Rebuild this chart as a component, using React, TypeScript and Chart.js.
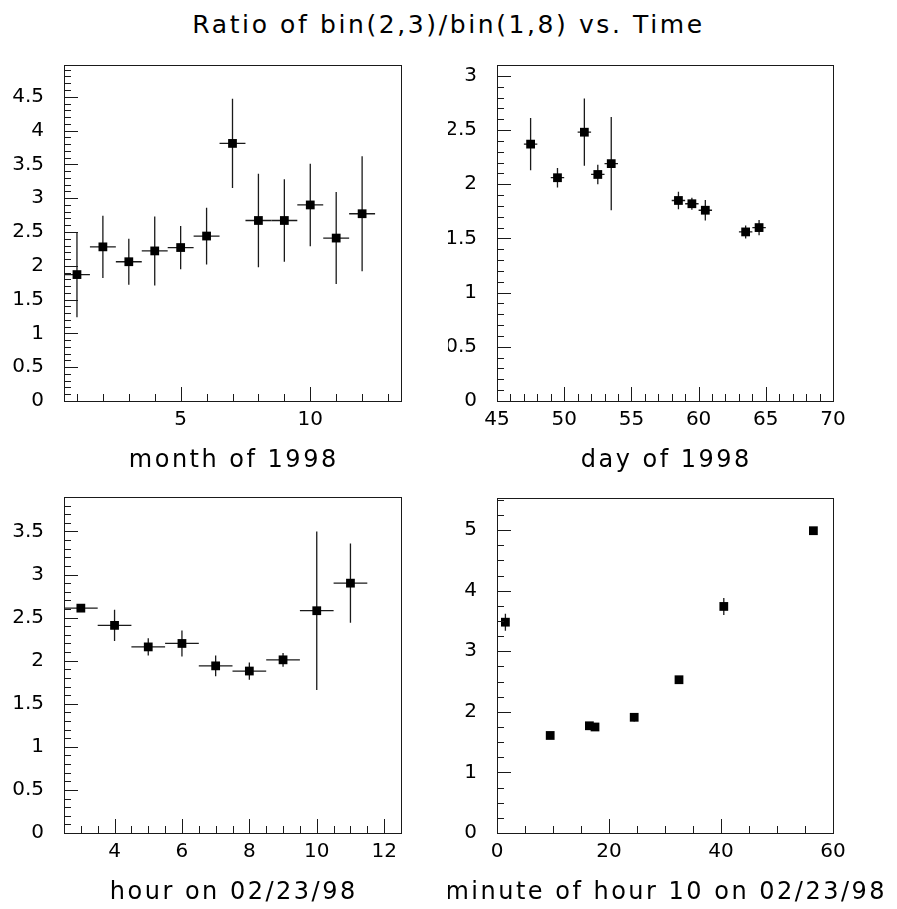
import React, { useEffect, useRef } from "react";
import { Chart, registerables } from "chart.js";

Chart.register(...registerables);

// ---------------- data ----------------
const monthX = [1, 2, 3, 4, 5, 6, 7, 8, 9, 10, 11, 12];
const monthRatio = [1.87, 2.28, 2.06, 2.22, 2.27, 2.44, 3.81, 2.67, 2.67, 2.9, 2.41, 2.77];
const monthErr = [0.63, 0.46, 0.34, 0.51, 0.32, 0.42, 0.66, 0.69, 0.61, 0.61, 0.68, 0.85];
const monthXTicks = [5, 10];
const monthYTicks = [0, 0.5, 1, 1.5, 2, 2.5, 3, 3.5, 4, 4.5];

const dayX = [47.5, 49.5, 51.5, 52.5, 53.5, 58.5, 59.5, 60.5, 63.5, 64.5];
const dayRatio = [2.37, 2.06, 2.48, 2.09, 2.19, 1.85, 1.82, 1.76, 1.56, 1.6];
const dayErr = [0.24, 0.09, 0.31, 0.09, 0.43, 0.08, 0.055, 0.095, 0.06, 0.07];
const dayXTicks = [45, 50, 55, 60, 65, 70];
const dayYTicks = [0, 0.5, 1, 1.5, 2, 2.5, 3];

const hourX = [3, 4, 5, 6, 7, 8, 9, 10, 11];
const hourRatio = [2.61, 2.41, 2.16, 2.2, 1.94, 1.88, 2.01, 2.58, 2.9];
const hourErr = [0.03, 0.18, 0.1, 0.15, 0.12, 0.1, 0.08, 0.92, 0.46];
const hourXTicks = [4, 6, 8, 10, 12];
const hourYTicks = [0, 0.5, 1, 1.5, 2, 2.5, 3, 3.5];

const minuteX = [1.5, 9.5, 16.5, 17.5, 24.5, 32.5, 40.5, 56.5];
const minuteRatio = [3.48, 1.61, 1.77, 1.75, 1.91, 2.53, 3.74, 4.99];
const minuteErr = [0.14, 0.03, 0.03, 0.03, 0.07, 0.04, 0.14, 0.03];
const minuteXTicks = [0, 20, 40, 60];
const minuteYTicks = [0, 1, 2, 3, 4, 5];

const BIN_HALF = 0.5;
const TITLE = "Ratio of bin(2,3)/bin(1,8) vs. Time";

// ---------------- panels ----------------
type Panel = {
  xs: number[]; ys: number[]; es: number[];
  xMin: number; xMax: number; yMin: number; yMax: number;
  xTicks: number[]; yTicks: number[];
  xMinor: number; yMinor: number;
  title: string;
  canvas: { left: number; top: number; w: number; h: number };
  area: { l: number; t: number; r: number; b: number };
};

const panels: Panel[] = [
  {
    xs: monthX, ys: monthRatio, es: monthErr,
    xMin: 0.5, xMax: 13.5, yMin: 0, yMax: 4.97,
    xTicks: monthXTicks, yTicks: monthYTicks, xMinor: 1, yMinor: 0.1,
    title: "month of 1998",
    canvas: { left: 0, top: 50, w: 448, h: 440 },
    area: { l: 64, t: 65, r: 401, b: 401 },
  },
  {
    xs: dayX, ys: dayRatio, es: dayErr,
    xMin: 45, xMax: 70, yMin: 0, yMax: 3.1,
    xTicks: dayXTicks, yTicks: dayYTicks, xMinor: 1, yMinor: 0.1,
    title: "day of 1998",
    canvas: { left: 448, top: 50, w: 449, h: 440 },
    area: { l: 497, t: 65, r: 833, b: 401 },
  },
  {
    xs: hourX, ys: hourRatio, es: hourErr,
    xMin: 2.5, xMax: 12.5, yMin: 0, yMax: 3.9,
    xTicks: hourXTicks, yTicks: hourYTicks, xMinor: 0.5, yMinor: 0.1,
    title: "hour on 02/23/98",
    canvas: { left: 0, top: 482, w: 448, h: 427 },
    area: { l: 64, t: 497, r: 401, b: 833 },
  },
  {
    xs: minuteX, ys: minuteRatio, es: minuteErr,
    xMin: 0, xMax: 60, yMin: 0, yMax: 5.53,
    xTicks: minuteXTicks, yTicks: minuteYTicks, xMinor: 5, yMinor: 0.25,
    title: "minute of hour 10 on 02/23/98",
    canvas: { left: 448, top: 482, w: 449, h: 427 },
    area: { l: 497, t: 498, r: 833, b: 833 },
  },
];

const FONT = '"DejaVu Sans", "Liberation Sans", sans-serif';
const LINE = "#1a1a1a";

function makePawPlugin(p: Panel) {
  return {
    id: "paw",
    beforeDatasetsDraw(chart: any) {
      const { ctx } = chart;
      const x = chart.scales.x;
      const y = chart.scales.y;
      ctx.save();
      ctx.strokeStyle = LINE;
      ctx.lineWidth = 1.3;
      p.xs.forEach((xv, i) => {
        const px = x.getPixelForValue(xv);
        const py = y.getPixelForValue(p.ys[i]);
        const y0 = y.getPixelForValue(p.ys[i] - p.es[i]);
        const y1 = y.getPixelForValue(p.ys[i] + p.es[i]);
        const x0 = x.getPixelForValue(xv - BIN_HALF);
        const x1 = x.getPixelForValue(xv + BIN_HALF);
        ctx.beginPath();
        ctx.moveTo(px, y0);
        ctx.lineTo(px, y1);
        ctx.moveTo(x0, py);
        ctx.lineTo(x1, py);
        ctx.stroke();
      });
      ctx.restore();
    },
    afterDraw(chart: any) {
      const { ctx, chartArea } = chart;
      const { left, right, top, bottom } = chartArea;
      const x = chart.scales.x;
      const y = chart.scales.y;
      ctx.save();
      ctx.strokeStyle = LINE;
      ctx.lineWidth = 1;
      ctx.strokeRect(Math.round(left) + 0.5, Math.round(top) + 0.5, Math.round(right - left), Math.round(bottom - top));
      const isMajor = (v: number, arr: number[]) => arr.some((t) => Math.abs(t - v) < 1e-6);
      ctx.beginPath();
      const ny = Math.floor((p.yMax - p.yMin) / p.yMinor + 1e-6);
      for (let k = 0; k <= ny; k++) {
        const v = p.yMin + k * p.yMinor;
        const py = Math.round(y.getPixelForValue(v)) + 0.5;
        const len = isMajor(v, p.yTicks) ? 14 : 7;
        ctx.moveTo(left, py);
        ctx.lineTo(left + len, py);
      }
      const k0 = Math.ceil(p.xMin / p.xMinor - 1e-6);
      const k1 = Math.floor(p.xMax / p.xMinor + 1e-6);
      for (let k = k0; k <= k1; k++) {
        const v = k * p.xMinor;
        const px = Math.round(x.getPixelForValue(v)) + 0.5;
        const len = isMajor(v, p.xTicks) ? 14 : 7;
        ctx.moveTo(px, bottom);
        ctx.lineTo(px, bottom - len);
      }
      ctx.stroke();
      // axis title
      ctx.fillStyle = "#000";
      ctx.font = `24px ${FONT}`;
      (ctx as any).letterSpacing = "2.5px";
      ctx.textAlign = "center";
      ctx.textBaseline = "alphabetic";
      ctx.fillText(p.title, (left + right) / 2 + 1.25, bottom + 66);
      ctx.restore();
    },
  };
}

function PanelChart({ p }: { p: Panel }) {
  const ref = useRef<HTMLCanvasElement | null>(null);
  useEffect(() => {
    const c = ref.current;
    if (!c) return;
    const padTop = p.area.t - p.canvas.top;
    const yWidth = p.area.l - p.canvas.left;
    const padRight = p.canvas.left + p.canvas.w - p.area.r;
    const xHeight = p.canvas.top + p.canvas.h - p.area.b;
    const chart = new Chart(c, {
      type: "scatter",
      data: {
        datasets: [
          {
            data: p.xs.map((xv, i) => ({ x: xv, y: p.ys[i] })),
            pointStyle: "rect",
            pointRadius: 6.2,
            backgroundColor: "#000",
            borderWidth: 0,
          },
        ],
      },
      options: {
        animation: false,
        responsive: false,
        events: [],
        layout: { padding: { top: padTop, right: padRight, bottom: 0, left: 0 } },
        plugins: { legend: { display: false }, tooltip: { enabled: false }, title: { display: false } },
        scales: {
          x: {
            type: "linear",
            position: "bottom",
            min: p.xMin,
            max: p.xMax,
            grid: { display: false, drawTicks: false },
            border: { display: false },
            ticks: {
              autoSkip: false,
              maxRotation: 0,
              padding: 7,
              color: "#000",
              font: { family: FONT, size: 20 },
              callback: (v: any) => String(v),
            },
            afterBuildTicks: (s: any) => {
              s.ticks = p.xTicks.map((v) => ({ value: v }));
            },
            afterFit: (s: any) => {
              s.height = xHeight;
              s.paddingLeft = 0;
              s.paddingRight = 0;
            },
          },
          y: {
            type: "linear",
            position: "left",
            min: p.yMin,
            max: p.yMax,
            grid: { display: false, drawTicks: false },
            border: { display: false },
            ticks: {
              autoSkip: false,
              padding: 20,
              color: "#000",
              font: { family: FONT, size: 20 },
              callback: (v: any) => String(v),
            },
            afterBuildTicks: (s: any) => {
              s.ticks = p.yTicks.map((v) => ({ value: v }));
            },
            afterFit: (s: any) => {
              s.width = yWidth;
              s.paddingTop = 0;
              s.paddingBottom = 0;
            },
          },
        },
      } as any,
      plugins: [makePawPlugin(p)],
    });
    return () => chart.destroy();
  }, [p]);
  return (
    <canvas
      ref={ref}
      width={p.canvas.w}
      height={p.canvas.h}
      style={{
        position: "absolute",
        left: p.canvas.left,
        top: p.canvas.top,
        width: p.canvas.w,
        height: p.canvas.h,
        display: "block",
      }}
    />
  );
}

export default function App() {
  return (
    <div
      style={{
        position: "absolute",
        left: 0,
        top: 0,
        width: 897,
        height: 909,
        background: "#fff",
        overflow: "hidden",
      }}
    >
      <div
        style={{
          position: "absolute",
          left: 0,
          top: 12,
          width: 897,
          textAlign: "center",
          fontFamily: FONT,
          fontSize: 25,
          lineHeight: "25px",
          letterSpacing: "2.6px",
          color: "#000",
          whiteSpace: "nowrap",
        }}
      >
        {TITLE}
      </div>
      {panels.map((p, i) => (
        <PanelChart key={i} p={p} />
      ))}
    </div>
  );
}
